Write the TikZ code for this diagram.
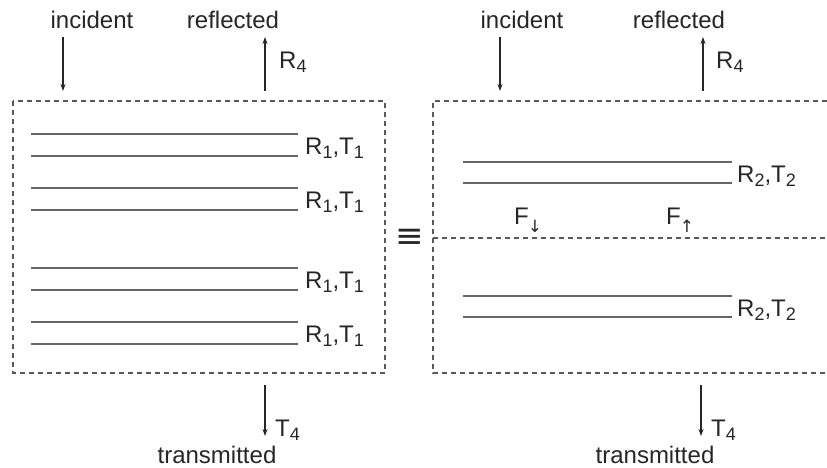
\documentclass[tikz,border=0pt]{standalone}
\usepackage{fontspec}
\setmainfont{Liberation Sans}
\newfontfamily\dvfont{DejaVu Sans}
\usetikzlibrary{arrows.meta}
\newcommand{\lsub}[1]{\raisebox{-0.35ex}{\fontsize{18}{18}\selectfont #1}}
\newcommand{\arsub}[1]{\kern-1pt\raisebox{-0.6ex}{\dvfont\fontsize{17}{17}\selectfont #1}}
\tikzset{
  lbl/.style={font=\fontsize{24}{26}\selectfont, inner sep=0pt, text=black!85},
  box/.style={draw=black!65, dash pattern=on 5pt off 4pt, line width=1.3pt},
  layer/.style={draw=black!60, line width=1.8pt},
  arr/.style={draw=black!85, line width=1.1pt, -{Stealth[length=7pt,width=5pt]}}
}
\begin{document}
\begin{tikzpicture}[x=1pt,y=-1pt]
\useasboundingbox (0,0) rectangle (827,468);
% left box
\draw[box] (13,101) rectangle (385,373);
\foreach \y/\n in {134/a,188/b,268/c,322/d}{
  \draw[layer] (31,\y) -- (298,\y);
  \draw[layer] (31,\y+22) -- (298,\y+22);
  \node[lbl, anchor=west] (L\n) at (305,\y+14) {R\lsub{1},T\lsub{1}};
}
\node[lbl] (inc1) at (92,20) {incident};
\coordinate (inc1e) at (63,91);
\draw[arr] (63,37) -- (inc1e);
\node[lbl] (ref1) at (233,20) {reflected};
\coordinate (ref1s) at (265,91);
\draw[arr] (ref1s) -- (265,37);
\node[lbl, anchor=west] (R1) at (279,62) {R\lsub{4}};
\coordinate (tr1s) at (265,385);
\draw[arr] (tr1s) -- (265,436);
\node[lbl, anchor=west] (T1) at (275,430) {T\lsub{4}};
\node[lbl] (trn1) at (217,455) {transmitted};
% equiv
\node[lbl, font=\dvfont\fontsize{34}{34}\selectfont] (eq) at (410,238) {≡};
% right box
\draw[box] (827,101) -- (433,101) -- (433,373) -- (827,373);
\draw[box] (433,238) -- (827,238);
\foreach \y/\n in {162/a,296/b}{
  \draw[layer] (463,\y) -- (732,\y);
  \draw[layer] (463,\y+21) -- (732,\y+21);
  \node[lbl, anchor=west] (M\n) at (737,\y+14) {R\lsub{2},T\lsub{2}};
}
\node[lbl, anchor=west] (Fd) at (514,220) {F\arsub{↓}};
\node[lbl, anchor=west] (Fu) at (666,220) {F\arsub{↑}};
\node[lbl] (inc2) at (522,20) {incident};
\coordinate (inc2e) at (500,91);
\draw[arr] (500,37) -- (inc2e);
\node[lbl] (ref2) at (679,20) {reflected};
\coordinate (ref2s) at (703,91);
\draw[arr] (ref2s) -- (703,37);
\node[lbl, anchor=west] (R2) at (716,62) {R\lsub{4}};
\coordinate (tr2s) at (701,385);
\draw[arr] (tr2s) -- (701,436);
\node[lbl, anchor=west] (T2) at (711,430) {T\lsub{4}};
\node[lbl] (trn2) at (655,455) {transmitted};
\end{tikzpicture}
\end{document}
